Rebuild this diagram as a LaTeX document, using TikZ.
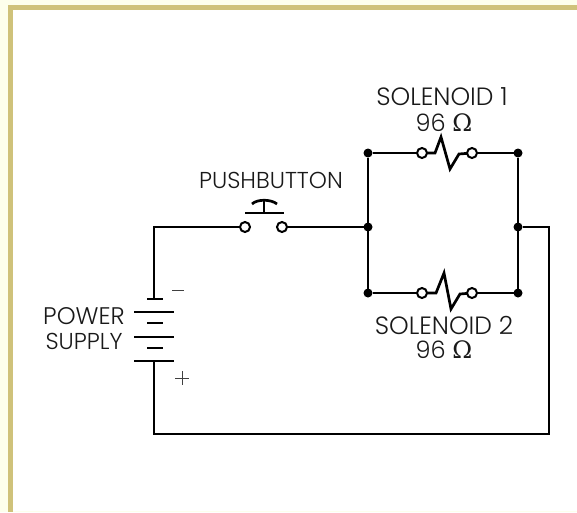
\documentclass[tikz,border=0pt]{standalone}
\usepackage{fontspec}
\setmainfont{Poppins}[UprightFont=* Light]
\newfontfamily\omegafont{DejaVu Serif}
\definecolor{pagebg}{HTML}{FDFFEC}
\definecolor{stripe}{HTML}{CFC27A}
\tikzset{x=1pt,y=-1pt,
  wire/.style={line width=2.7pt,black,line join=miter},
  thin wire/.style={line width=0.9pt,black!75},
  dot/.style={circle,fill=black,inner sep=0pt,outer sep=0pt,minimum size=9pt},
  contact/.style={circle,draw=black,line width=2pt,fill=white,inner sep=0pt,outer sep=0pt,minimum size=10pt},
  lbl/.style={font=\fontsize{#1}{#1}\selectfont,inner sep=0pt,anchor=center,text=black!90},
  lbl/.default=23}
\begin{document}
\begin{tikzpicture}
\useasboundingbox (0,0) rectangle (577,512);
\fill[pagebg] (0,0) rectangle (577,512);
\fill[stripe] (8,5) rectangle (13,512);
\fill[stripe] (8,5) rectangle (577,10);
\fill[white] (13,10) rectangle (577,512);
\fill[pagebg] (13,511) rectangle (577,512);
% junctions
\node[dot] (ja) at (368,153) {};
\node[dot] (jb) at (368,227) {};
\node[dot] (jc) at (368,293) {};
\node[dot] (jd) at (518,153) {};
\node[dot] (je) at (518,227) {};
\node[dot] (jf) at (518,293) {};
\coordinate (bt) at (154,299);
\coordinate (bb) at (154,361);
\coordinate (c1) at (154,227);
\coordinate (c2) at (549,227);
\coordinate (c3) at (549,434);
\coordinate (c4) at (154,434);
% contacts
\node[contact] (pa) at (245,227) {};
\node[contact] (pb) at (282,227) {};
\node[contact] (sa) at (422,153) {};
\node[contact] (sb) at (472,153) {};
\node[contact] (ta) at (422,293) {};
\node[contact] (tb) at (472,293) {};
% wiring
\draw[wire] (bt) -- (c1) -- (pa);
\draw[wire] (pb) -- (jb);
\draw[wire] (ja) -- (jc);
\draw[wire] (jd) -- (jf);
\draw[wire] (ja) -- (sa);
\draw[wire] (sb) -- (jd);
\draw[wire] (jc) -- (ta);
\draw[wire] (tb) -- (jf);
\draw[wire] (je) -- (c2) -- (c3) -- (c4) -- (bb);
% solenoids
\draw[wire] (sa) -- (435,153) -- (441,137) -- (450,169) -- (459,154) -- (sb);
\draw[wire] (ta) -- (436,293) -- (444,273) -- (451,309) -- (460,294) -- (tb);
% pushbutton
\draw[wire] (245,213) -- (284,213);
\draw[wire] (264,213) -- (264,200);
\draw[wire] (252,204) .. controls (257,199) and (271,199) .. (277,204);
% battery
\draw[wire] (147,299) -- (163,299);
\draw[wire] (134,312) -- (174,312);
\draw[wire] (147,323) -- (163,323);
\draw[wire] (134,337) -- (174,337);
\draw[wire] (147,348) -- (163,348);
\draw[wire] (134,361) -- (174,361);
\draw[thin wire] (172,290) -- (184,290);
\draw[thin wire] (175,378) -- (189,378);
\draw[thin wire] (182,371) -- (182,385);
% labels
\node[lbl=23] (lp) at (271,180) {PUSHBUTTON};
\node[lbl=25] (ls) at (442,97) {SOLENOID 1};
\node[lbl=24] (lso) at (444,123) {96 {\omegafont Ω}};
\node[lbl=25] (lt) at (444,325) {SOLENOID 2};
\node[lbl=24] (lto) at (444,350) {96 {\omegafont Ω}};
\node[lbl=24] (lw) at (84,316) {POWER};
\node[lbl=23] (ly) at (84,341) {SUPPLY};
\end{tikzpicture}
\end{document}
